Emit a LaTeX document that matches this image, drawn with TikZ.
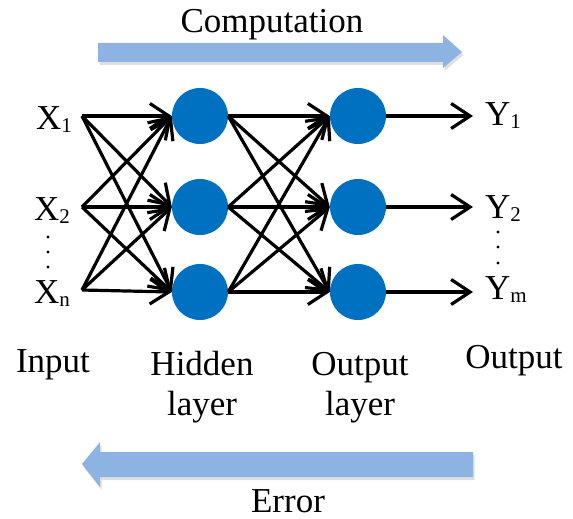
\documentclass[tikz,border=0pt]{standalone}
\usepackage{fontspec}
\setmainfont{Liberation Serif}
\usetikzlibrary{arrows.meta,shadows}
\definecolor{nblue}{RGB}{0,112,192}
\definecolor{abl}{RGB}{141,179,226}
\newcommand\sbs[1]{\raisebox{-3pt}{\fontsize{21}{21}\selectfont #1}}
\begin{document}
\begin{tikzpicture}[x=1pt,y=-1pt,
  neuron/.style={circle,fill=nblue,minimum size=56pt,inner sep=0pt},
  conn/.style={line width=3.2pt,-{Straight Barb[length=19pt,width=25pt]}},
  lbl/.style={font=\fontsize{35}{40}\selectfont,inner sep=0pt,align=center},
  bigarrow/.style={fill=abl,drop shadow={opacity=0.25,shadow xshift=1.5pt,shadow yshift=-3pt}}]
\useasboundingbox (0,0) rectangle (573,519);

% big arrows
\fill[bigarrow] (98,43) -- (443,43) -- (443,35) -- (462,52) -- (443,68) -- (443,62) -- (98,62) -- cycle;
\fill[bigarrow] (473,452) -- (100,452) -- (100,442) -- (82,464) -- (100,487) -- (100,477) -- (473,477) -- cycle;
\node[lbl,anchor=base] (comp) at (272,33) {Computation};
\node[lbl,anchor=base] (err) at (288,512) {Error};

% input points
\coordinate (x1) at (82,116);
\coordinate (x2) at (82,207);
\coordinate (x3) at (82,290);
% neurons
\node[neuron] (h1) at (200,116) {};
\node[neuron] (h2) at (200,207) {};
\node[neuron] (h3) at (200,292) {};
\node[neuron] (o1) at (358,116) {};
\node[neuron] (o2) at (358,207) {};
\node[neuron] (o3) at (358,292) {};
% output points
\coordinate (y1) at (473,116);
\coordinate (y2) at (473,207);
\coordinate (y3) at (473,292);

\foreach \i in {1,2,3}{
  \foreach \j in {1,2,3}{
    \draw[conn] (x\i) -- (h\j.west);
    \draw[conn] (h\i.east) -- (o\j.west);
  }
  \draw[conn] (o\i.east) -- (y\i);
}

% labels
\node[lbl,anchor=base west] (lx1) at (36,129) {X\sbs{1}};
\node[lbl,anchor=base west] (lx2) at (34,220) {X\sbs{2}};
\node[lbl,anchor=base west] (lx3) at (34,303) {X\sbs{n}};
\node[lbl,anchor=base west] (ly1) at (485,125) {Y\sbs{1}};
\node[lbl,anchor=base west] (ly2) at (485,218) {Y\sbs{2}};
\node[lbl,anchor=base west] (ly3) at (485,299) {Y\sbs{m}};
\foreach \yy in {237,252,267} \fill (48,\yy) circle (1.7);
\foreach \yy in {232,247,263} \fill (498,\yy) circle (1.7);

\node[lbl,anchor=base] (lin) at (53,372) {Input};
\node[lbl,anchor=base] (lhid) at (202,415) {Hidden\\layer};
\node[lbl,anchor=base] (lout) at (360,415) {Output\\layer};
\node[lbl,anchor=base] (lres) at (514,368) {Output};
\end{tikzpicture}
\end{document}
